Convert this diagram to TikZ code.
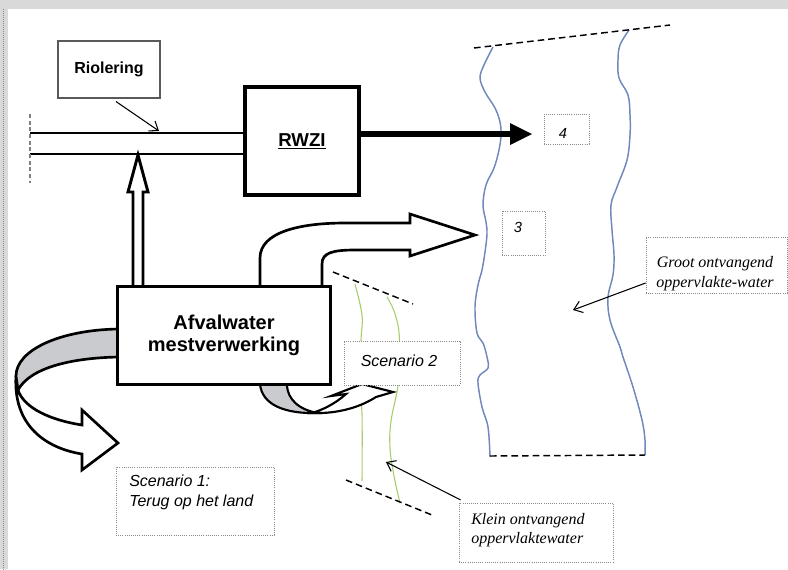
\documentclass[tikz,border=0pt]{standalone}
\usepackage{fontspec}
\setmainfont{Liberation Serif}
\setsansfont{Liberation Sans}
\usetikzlibrary{arrows.meta}
\definecolor{riverblue}{HTML}{7088BC}
\definecolor{streamgreen}{HTML}{A8CC6A}
\definecolor{bandgray}{HTML}{C9CBCE}
\definecolor{framegray}{HTML}{D9D9D9}
\definecolor{dotgray}{HTML}{8A8A8A}
\begin{document}
\begin{tikzpicture}[x=0.75pt,y=-0.75pt,
  dotbox/.style={draw=dotgray, densely dotted, line width=0.6pt, fill=white, inner sep=0pt},
  hollow/.style={draw=black, line width=2pt, fill=white, line join=miter},
  river/.style={riverblue, line width=1.1pt},
  stream/.style={streamgreen, line width=0.8pt},
  limit/.style={line width=1.1pt, dash pattern=on 5pt off 3pt},
  pointer/.style={line width=0.8pt, -{Straight Barb[length=6pt,width=9pt]}},
  itsans/.style={font=\fontsize{12}{15}\selectfont\sffamily\itshape, inner sep=0pt},
  itserif/.style={font=\fontsize{12}{15}\selectfont\rmfamily\itshape, inner sep=0pt},
]
\useasboundingbox (0,0) rectangle (788,569);
\fill[white] (0,0) rectangle (788,569);
\fill[framegray] (0,0) rectangle (788,8.5);
\fill[framegray] (0,0) rectangle (8,569);
\draw[dotgray, densely dotted, line width=0.5pt] (3,8.5) -- (3,569);

% large receiving water
\draw[river] plot[smooth, tension=0.6] coordinates {(493,47) (484,65) (480,78) (485,92) (495,108) (500,122) (501,135) (499,150) (494,168) (486,185) (483,205) (486,222) (487,234) (485,252) (482,270) (478,285) (475,307) (477,333) (483,343) (487,357) (488,368) (480,375) (478,383) (482,407) (488,427) (490,457)};
\draw[river] plot[smooth, tension=0.6] coordinates {(629,30) (620,45) (618,60) (619,78) (628,95) (630,115) (630,135) (627,160) (617,187) (611,205) (612,230) (614,255) (613,275) (608,297) (610,320) (620,347) (623,357) (633,387) (642,420) (645,440) (645,455)};
\draw[limit] (474,48) -- (670,25);
\draw[limit] (490,456) -- (645,455);

% small receiving water
\draw[stream] plot[smooth, tension=0.6] coordinates {(355,284) (362,315) (361,340) (359,385) (362,414) (362,481)};
\draw[stream] plot[smooth, tension=0.6] coordinates {(387,297) (394,311) (399,332) (399,360) (398,386) (391,421) (390,448) (394,476) (400,503)};
\draw[limit] (333,272) -- (413,304);
\draw[limit] (346,480) -- (432,515);

% sewer
\node[draw, line width=3pt, minimum width=85.5pt, minimum height=81pt, inner sep=0pt,
      font=\fontsize{14}{16}\selectfont\sffamily\bfseries] (rwzi) at (302,141) {\underline{RWZI}};
\coordinate (pipeW1) at (30,133);
\coordinate (pipeW2) at (30,154);
\draw[line width=1.5pt] (pipeW1) -- (pipeW1 -| rwzi.west);
\draw[line width=1.5pt] (pipeW2) -- (pipeW2 -| rwzi.west);
\draw[gray, line width=1pt, dash pattern=on 3pt off 2pt] (30,114) -- (30,183);

\node[draw=black!65, line width=0.8pt, minimum width=76.5pt, minimum height=42.75pt,
      font=\fontsize{12}{14}\selectfont\sffamily\bfseries] (rio) at (109,69.5) {Riolering};
\coordinate (rioTip) at (159,131);
\draw[pointer] ([xshift=5.25pt,yshift=-2.25pt]rio.south) -- (rioTip);

% RWZI effluent arrow
\coordinate (tip4) at (532,134);
\draw[line width=3.8pt] (rwzi.east |- tip4) -- (512,134);
\fill (510,123) -- (tip4) -- (510,145) -- cycle;

% boxes 3 and 4
\node[dotbox, minimum width=33.75pt, minimum height=22.5pt] (b4) at (566.5,129) {};
\node[font=\fontsize{11}{13}\selectfont\sffamily\itshape, anchor=base, inner sep=0pt] (t4) at (563,138) {4};
\node[dotbox, minimum width=32.25pt, minimum height=33pt] (b3) at (523.5,233) {};
\node[font=\fontsize{11}{13}\selectfont\sffamily\itshape, anchor=base, inner sep=0pt] (t3) at (518,232) {3};

% hollow arrow up into the sewer
\coordinate (upTip) at (138,155);
\draw[hollow, line width=2.2pt] (133,286) -- (133,192) -- (128,192) -- (upTip) -- (148,192) -- (143,192) -- (143,286);

% big curved hollow arrow to the large water
\coordinate (tip3) at (475,235);
\draw[hollow] (260,286) -- (260,258) .. controls (260,232) and (300,223) .. (345,223) -- (410,223) -- (410,214) -- (tip3) -- (410,256) -- (410,250) -- (355,250) .. controls (332,250) and (322,253) .. (322,264) -- (322,286);

% scenario 1 swirl
\coordinate (tip1) at (118,443);
\draw[hollow] (16,376) .. controls (13,425) and (45,448) .. (82,454) -- (82,470) -- (tip1) -- (82,410) -- (82,425) .. controls (50,420) and (24,408) .. (18,390) -- cycle;
\filldraw[fill=bandgray, line width=2pt] (118,329) .. controls (60,330) and (16,350) .. (16,376) -- (18,390) .. controls (30,368) and (70,358) .. (118,357);

% scenario 2 swirl
\coordinate (tip2) at (393,392);
\filldraw[fill=bandgray, line width=1.6pt] (260,384) .. controls (262,405) and (285,414) .. (318,413) .. controls (300,410) and (287,400) .. (287,384);
\draw[hollow, line width=1.6pt] (312,413) .. controls (340,414) and (362,406) .. (376,397) -- (tip2) -- (362,384) -- (331,396) -- (346,394) .. controls (335,404) and (322,410) .. (312,413) -- cycle;

% processing box
\node[draw, line width=2.4pt, fill=white, minimum width=159.6pt, minimum height=73.4pt, inner sep=0pt,
      align=center, font=\fontsize{15}{16.5}\selectfont\sffamily\bfseries] (afv) at (224,335.5) {Afvalwater\\mestverwerking};

% scenario labels
\node[dotbox, minimum width=87pt, minimum height=33pt] (s2) at (402,363) {};
\node[itsans, anchor=base] (s2t) at (399,366) {Scenario 2};
\node[dotbox, minimum width=118.5pt, minimum height=51pt] (s1) at (195,501) {};
\node[itsans, anchor=base west] (s1a) at (129,486) {Scenario 1:};
\node[itsans, anchor=base west] (s1b) at (129,506) {Terug op het land};

% water labels
\node[dotbox, minimum width=105.75pt, minimum height=42pt] (groot) at (716.5,265) {};
\node[itserif, anchor=base] (groota) at (715,267) {Groot ontvangend};
\node[itserif, anchor=base] (grootb) at (715,287) {oppervlakte-water};
\coordinate (grootTip) at (573,310);
\draw[pointer] ([yshift=-13.5pt]groot.west) -- (grootTip);

\node[dotbox, minimum width=115.5pt, minimum height=44.25pt] (klein) at (536,532.5) {};
\node[itserif, anchor=base west] (kleina) at (471,524) {Klein ontvangend};
\node[itserif, anchor=base west] (kleinb) at (471,543) {oppervlaktewater};
\coordinate (kleinTip) at (386,462);
\draw[pointer] ([xshift=1.5pt,yshift=2pt]klein.north west) -- (kleinTip);
\end{tikzpicture}
\end{document}
